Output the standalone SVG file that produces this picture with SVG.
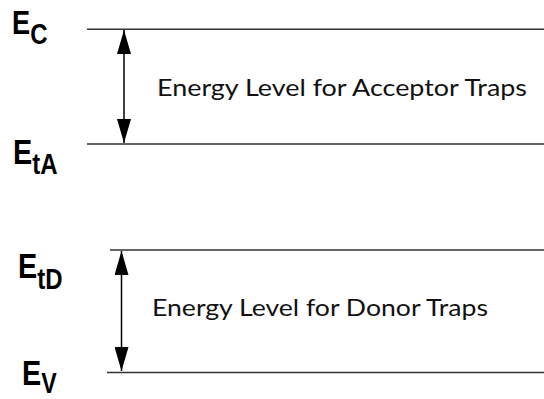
<svg xmlns="http://www.w3.org/2000/svg" width="544" height="399" viewBox="0 0 544 399">
<defs>
<marker id="head" viewBox="0 0 24 14" refX="24" refY="7" markerWidth="24" markerHeight="14" markerUnits="userSpaceOnUse" orient="auto-start-reverse">
<path d="M0,0 L24,7 L0,14 Z" fill="#000"/>
</marker>
<style>
.lvl{stroke:#333;stroke-width:1.5;fill:none}
.arr{stroke:#000;stroke-width:1.5;fill:none;marker-start:url(#head);marker-end:url(#head)}
.lab{font-family:Lato,"Noto Sans",sans-serif;font-size:22.5px;fill:#111}
.sym{font-family:"Liberation Sans",Arial,sans-serif;font-weight:bold;fill:#000}
</style>
</defs>
<g id="connectors">
<line class="arr" x1="124" y1="30" x2="124" y2="143"/>
<line class="arr" x1="121.5" y1="251" x2="121.5" y2="371"/>
</g>
<g id="Ec">
<line class="lvl" x1="87" y1="29.3" x2="544" y2="29.3"/>
<text class="sym" transform="translate(12,34) scale(0.8,1)"><tspan font-size="34">E</tspan><tspan font-size="30" dy="10">C</tspan></text>
</g>
<g id="EtA">
<line class="lvl" x1="87" y1="144" x2="544" y2="144"/>
<text class="sym" transform="translate(13,164) scale(0.8,1)"><tspan font-size="36">E</tspan><tspan font-size="30" dy="10">tA</tspan></text>
</g>
<g id="EtD">
<line class="lvl" x1="110" y1="250" x2="544" y2="250"/>
<text class="sym" transform="translate(18,278) scale(0.8,1)"><tspan font-size="36">E</tspan><tspan font-size="30" dy="11">tD</tspan></text>
</g>
<g id="Ev">
<line class="lvl" x1="107" y1="372.5" x2="544" y2="372.5"/>
<text class="sym" transform="translate(22,385) scale(0.8,1)"><tspan font-size="36">E</tspan><tspan font-size="29" dy="8">V</tspan></text>
</g>
<g id="acceptor-label">
<text class="lab" x="157" y="96" textLength="370" lengthAdjust="spacingAndGlyphs">Energy Level for Acceptor Traps</text>
</g>
<g id="donor-label">
<text class="lab" x="152" y="316" textLength="336" lengthAdjust="spacingAndGlyphs">Energy Level for Donor Traps</text>
</g>
</svg>
